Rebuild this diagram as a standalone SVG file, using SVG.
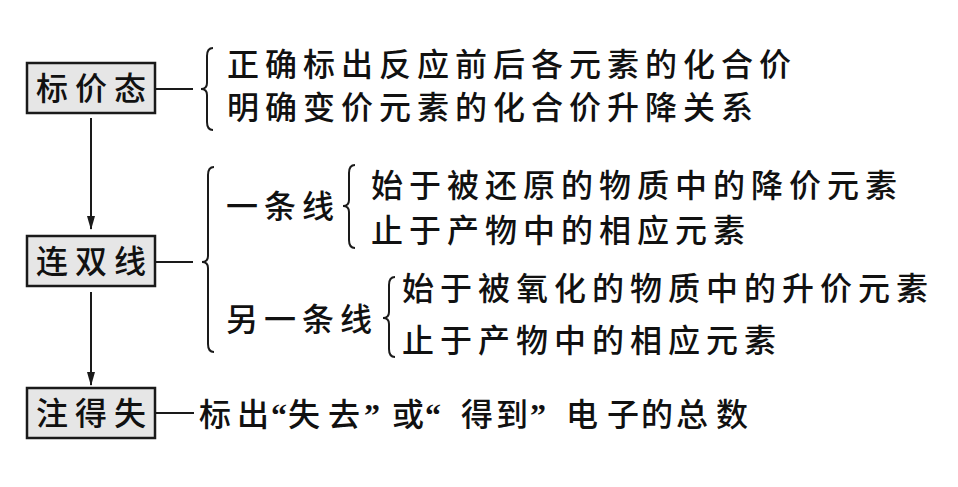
<svg xmlns="http://www.w3.org/2000/svg" width="958" height="487" viewBox="0 0 958 487">
<style>
.box{fill:#e6e6e6;stroke:#1a1a1a;stroke-width:2.5}
.t{font-family:"Noto Sans CJK SC","Noto Sans CJK TC",sans-serif;font-size:32px;font-weight:500;fill:#111;letter-spacing:6px}
.bt{font-family:"Noto Sans CJK SC","Noto Sans CJK TC",sans-serif;font-size:32px;font-weight:500;fill:#111;letter-spacing:7px}
.q{font-family:"Liberation Serif",serif;font-weight:bold}
.ln{stroke:#1a1a1a;stroke-width:2;fill:none}
.br{stroke:#1a1a1a;stroke-width:2;fill:none}
</style>
<defs>
<marker id="ahd" markerWidth="14" markerHeight="10" refX="13" refY="5" orient="auto" markerUnits="userSpaceOnUse" viewBox="0 0 14 10">
<path d="M0,1 L14,5 L0,9 Z" fill="#1a1a1a"/>
</marker>
</defs>
<rect width="958" height="487" fill="#fff"/>
<g id="connectors">
<line class="ln" x1="91" y1="118" x2="91" y2="229" marker-end="url(#ahd)"/>
<line class="ln" x1="91" y1="292" x2="91" y2="385" marker-end="url(#ahd)"/>
<line class="ln" x1="155" y1="89" x2="193" y2="89"/>
<line class="ln" x1="155" y1="262" x2="193" y2="262"/>
<line class="ln" x1="155" y1="413" x2="194" y2="413"/>
<path class="br" d="M213,48 Q207,48 207,56 V83 Q207,89 201,89 Q207,89 207,95 V122 Q207,130 213,130"/>
<path class="br" d="M214,167 Q208,167 208,175 V256 Q208,262 202,262 Q208,262 208,268 V344 Q208,352 214,352"/>
<path class="br" d="M355,165 Q349,165 349,173 V200 Q349,206 343,206 Q349,206 349,212 V240 Q349,248 355,248"/>
<path class="br" d="M395,277 Q389,277 389,285 V312 Q389,318 383,318 Q389,318 389,324 V349 Q389,357 395,357"/>
</g>
<g id="node-biaojiatai">
<rect class="box" x="27" y="63" width="128" height="50"/>
<text class="bt" x="36" y="100">标价态</text>
</g>
<g id="node-lianshuangxian">
<rect class="box" x="27" y="236" width="128" height="50"/>
<text class="bt" x="36" y="273">连双线</text>
</g>
<g id="node-zhudeshi">
<rect class="box" x="27" y="388" width="128" height="50"/>
<text class="bt" x="36" y="425">注得失</text>
</g>
<g id="text-biaojiatai">
<text class="t" x="227" y="76">正确标出反应前后各元素的化合价</text>
<text class="t" x="227" y="119">明确变价元素的化合价升降关系</text>
</g>
<g id="text-yitiaoxian">
<text class="t" x="226" y="218">一条线</text>
<text class="t" x="371" y="197">始于被还原的物质中的降价元素</text>
<text class="t" x="371" y="242">止于产物中的相应元素</text>
</g>
<g id="text-lingyitiaoxian">
<text class="t" x="226" y="331">另一条线</text>
<text class="t" x="402" y="300">始于被氧化的物质中的升价元素</text>
<text class="t" x="402" y="352">止于产物中的相应元素</text>
</g>
<g id="text-zhudeshi">
<text class="t" style="letter-spacing:0" y="426"><tspan x="199 237">标出</tspan><tspan class="q" x="271">“</tspan><tspan x="288 328">失去</tspan><tspan class="q" x="364">”</tspan><tspan x="392">或</tspan><tspan class="q" x="425">“</tspan><tspan x="461 496">得到</tspan><tspan class="q" x="530">”</tspan><tspan x="566 607 641 676 716">电子的总数</tspan></text>
</g>
</svg>
